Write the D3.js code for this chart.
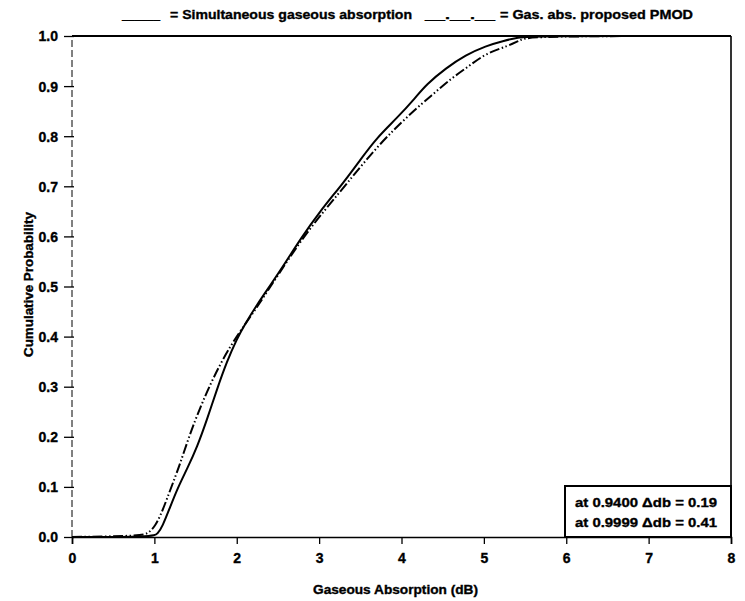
<!DOCTYPE html>
<html>
<head>
<meta charset="utf-8">
<script src="https://cdn.jsdelivr.net/npm/d3@7"></script>
<style>
  body { margin: 0; background: #fff; }
  text { font-family: "Liberation Sans", Arial, sans-serif; font-weight: bold; fill: #000; stroke: #000; stroke-width: 0.35px; }
</style>
</head>
<body>
<svg id="chart"></svg>
<script>
// values
var simX = [0, 0.98, 1.04, 1.10, 1.18, 1.28, 1.40, 1.52, 1.64, 1.76, 1.88, 2.0, 2.1, 2.25, 2.41, 2.6, 2.77, 3.0, 3.3, 3.5, 3.7, 3.95, 4.17, 4.3, 4.54, 4.78, 5.02, 5.25, 5.42, 5.55, 8];
var simY = [0, 0, 0.006, 0.022, 0.055, 0.097, 0.137, 0.18, 0.235, 0.295, 0.35, 0.395, 0.425, 0.465, 0.503, 0.55, 0.594, 0.648, 0.708, 0.753, 0.797, 0.837, 0.877, 0.903, 0.936, 0.962, 0.980, 0.991, 0.997, 1.0, 1.0];

var pmodX = [0, 0.85, 0.93, 1.01, 1.08, 1.15, 1.23, 1.31, 1.43, 1.56, 1.68, 1.80, 1.92, 2.04, 2.25, 2.41, 2.77, 3.03, 3.32, 3.72, 4.12, 4.37, 4.61, 4.82, 5.03, 5.3, 5.45, 5.58, 8];
var pmodY = [0, 0.002, 0.008, 0.022, 0.045, 0.075, 0.11, 0.145, 0.205, 0.26, 0.305, 0.345, 0.38, 0.41, 0.46, 0.5, 0.59, 0.645, 0.702, 0.783, 0.847, 0.882, 0.916, 0.94, 0.966, 0.98, 0.993, 1.0, 1.0];

var xTicks = [0, 1, 2, 3, 4, 5, 6, 7, 8];
var yTicks = [0, 0.1, 0.2, 0.3, 0.4, 0.5, 0.6, 0.7, 0.8, 0.9, 1.0];
var boxLines = ["at 0.9400 \u0394db = 0.19", "at 0.9999 \u0394db = 0.41"];

var svg_width = 745, svg_height = 601;
var margin = {top: 36, right: 14, bottom: 64, left: 72};

var svg = d3.select("#chart")
  .attr("width", svg_width)
  .attr("height", svg_height);

var x = d3.scaleLinear().domain([0, 8]).range([margin.left, svg_width - margin.right]);
var y = d3.scaleLinear().domain([0, 1]).range([svg_height - margin.bottom, margin.top]);

// legend line at the top (plain text, as in the scan)
var legendParts = [
  {t: "______", x: 122, w: 38},
  {t: "= Simultaneous gaseous absorption", x: 170, w: 242},
  {t: "__.__.__", x: 425, w: 70},
  {t: "= Gas. abs. proposed PMOD", x: 500, w: 193}
];
svg.selectAll("text.legend")
  .data(legendParts)
  .enter()
  .append("text")
  .attr("class", "legend")
  .attr("x", d => d.x)
  .attr("y", 19)
  .attr("textLength", d => d.w)
  .attr("lengthAdjust", "spacingAndGlyphs")
  .style("font-size", "13px")
  .text(d => d.t);

// x axis
var xAxis = svg.append("g")
  .attr("transform", "translate(0," + y(0) + ")")
  .call(d3.axisBottom(x).tickValues(xTicks).tickFormat(d3.format("d")).tickSize(7).tickPadding(9));
xAxis.select(".domain").attr("stroke-width", 1.6);
xAxis.selectAll(".tick line").attr("stroke-width", 1.3);
xAxis.selectAll("text").style("font-size", "14px");

// y axis
var yAxis = svg.append("g")
  .attr("transform", "translate(" + x(0) + ",0)")
  .call(d3.axisLeft(y).tickValues(yTicks).tickFormat(d3.format(".1f")).tickSize(8).tickPadding(6));
yAxis.select(".domain").remove();
yAxis.selectAll(".tick line").attr("x2", -8).attr("x1", 2).attr("stroke-width", 1.3);
yAxis.selectAll("text").style("font-size", "14px").attr("dy", "0.35em");

svg.append("line")
  .attr("x1", x(0)).attr("x2", x(0))
  .attr("y1", y(0)).attr("y2", y(1))
  .attr("stroke", "#000")
  .attr("stroke-width", 1)
  .attr("stroke-dasharray", "7,3");

// frame top and right
svg.append("line")
  .attr("x1", x(0)).attr("x2", x(8))
  .attr("y1", y(1)).attr("y2", y(1))
  .attr("stroke", "#000").attr("stroke-width", 2);
svg.append("line")
  .attr("x1", x(8)).attr("x2", x(8))
  .attr("y1", y(1)).attr("y2", y(0))
  .attr("stroke", "#000").attr("stroke-width", 1.6);

// axis titles
svg.append("text")
  .text("Gaseous Absorption (dB)")
  .attr("x", 313)
  .attr("y", 594)
  .attr("textLength", 165)
  .attr("lengthAdjust", "spacingAndGlyphs")
  .style("font-size", "12.5px");

svg.append("text")
  .text("Cumulative Probability")
  .attr("transform", "translate(33,357) rotate(-90)")
  .attr("textLength", 145)
  .attr("lengthAdjust", "spacingAndGlyphs")
  .style("font-size", "12.5px");

// curves
var line = d3.line()
  .x(d => x(d[0]))
  .y(d => y(d[1]))
  .curve(d3.curveBasis);

svg.append("path")
  .datum(pmodX.map((v, i) => [v, pmodY[i]]))
  .attr("d", line)
  .attr("fill", "none")
  .attr("stroke", "#000")
  .attr("stroke-width", 2)
  .attr("stroke-dasharray", "10,2.5,1.5,2.5,1.5,2.5");

svg.append("path")
  .datum(simX.map((v, i) => [v, simY[i]]))
  .attr("d", line)
  .attr("fill", "none")
  .attr("stroke", "#000")
  .attr("stroke-width", 2);

// annotation box
var box = svg.append("g");
box.append("rect")
  .attr("x", 565)
  .attr("y", 486)
  .attr("width", x(8) - 565)
  .attr("height", y(0) - 486)
  .attr("fill", "#fff")
  .attr("stroke", "#000")
  .attr("stroke-width", 2);

box.selectAll("text.box")
  .data(boxLines)
  .enter()
  .append("text")
  .attr("class", "box")
  .attr("x", 575)
  .attr("y", (d, i) => 507 + i * 20)
  .attr("textLength", 142)
  .attr("lengthAdjust", "spacingAndGlyphs")
  .style("font-size", "13px")
  .text(d => d);
</script>
</body>
</html>
